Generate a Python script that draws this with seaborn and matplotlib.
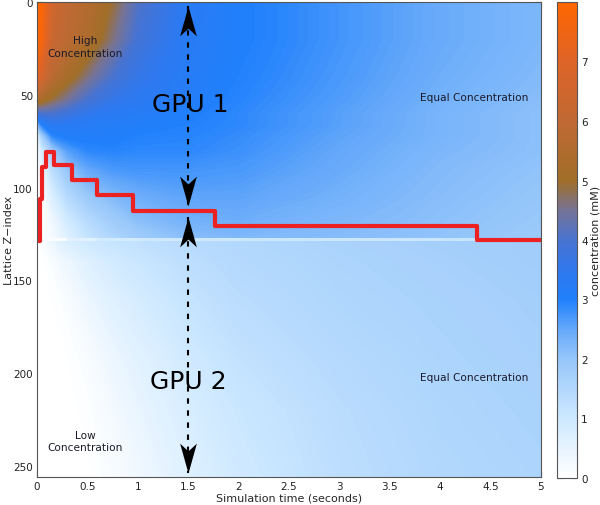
import numpy as np
import matplotlib
matplotlib.use("Agg")
import matplotlib.pyplot as plt
import seaborn as sns
from matplotlib.colors import LinearSegmentedColormap, Normalize
from matplotlib.cm import ScalarMappable
from matplotlib.path import Path

# ---------------- data ----------------
# upper sub-domain (GPU 1): concentration (mM) at sample times / lattice rows
t_up = [0, 0.05, 0.15, 0.3, 0.5, 0.75, 1.0, 1.5, 2.0, 3.0, 4.0, 5.0]
z_up = [0, 20, 40, 52, 60, 66, 72, 80, 90, 105, 118, 128]
c_up = [
    [8.0, 7.8, 6.5, 6.0, 5.6, 4.9, 4.1, 3.3, 3.05, 2.75, 2.45, 2.25],
    [8.0, 7.6, 6.3, 5.8, 5.4, 4.6, 3.9, 3.25, 3.05, 2.75, 2.45, 2.25],
    [7.2, 6.6, 5.8, 5.2, 4.6, 4.0, 3.6, 3.2, 3.0, 2.7, 2.4, 2.2],
    [5.6, 5.3, 4.9, 4.5, 4.0, 3.6, 3.4, 3.15, 2.95, 2.65, 2.35, 2.15],
    [3.6, 4.0, 4.0, 3.8, 3.5, 3.3, 3.2, 3.05, 2.9, 2.6, 2.3, 2.1],
    [2.2, 3.0, 3.3, 3.3, 3.2, 3.15, 3.1, 3.0, 2.9, 2.6, 2.3, 2.1],
    [0.5, 1.8, 2.9, 3.1, 3.1, 3.1, 3.0, 2.95, 2.85, 2.55, 2.3, 2.1],
    [0.0, 0.9, 1.8, 2.6, 2.9, 2.95, 2.9, 2.9, 2.8, 2.5, 2.25, 2.1],
    [0.0, 0.4, 1.3, 2.0, 2.5, 2.7, 2.75, 2.75, 2.7, 2.45, 2.2, 2.05],
    [0.0, 0.1, 0.7, 1.4, 1.9, 2.2, 2.4, 2.55, 2.55, 2.35, 2.15, 2.0],
    [0.0, 0.0, 0.3, 0.9, 1.4, 1.8, 2.1, 2.35, 2.4, 2.25, 2.1, 1.95],
    [0.0, 0.0, 0.2, 0.6, 1.1, 1.5, 1.8, 2.1, 2.2, 2.15, 2.05, 1.9],
]

# lower sub-domain (GPU 2)
t_low = [0, 0.1, 0.25, 0.5, 0.75, 1.0, 1.5, 2.0, 3.0, 4.0, 5.0]
z_low = [128, 140, 160, 190, 220, 256]
c_low = [
    [0.0, 0.3, 0.7, 1.0, 1.15, 1.25, 1.4, 1.5, 1.65, 1.75, 1.8],
    [0.0, 0.05, 0.3, 0.65, 0.9, 1.05, 1.3, 1.45, 1.6, 1.7, 1.8],
    [0.0, 0.0, 0.1, 0.4, 0.65, 0.85, 1.15, 1.35, 1.55, 1.65, 1.75],
    [0.0, 0.0, 0.0, 0.15, 0.4, 0.6, 0.95, 1.2, 1.45, 1.6, 1.7],
    [0.0, 0.0, 0.0, 0.05, 0.25, 0.45, 0.8, 1.05, 1.35, 1.55, 1.65],
    [0.0, 0.0, 0.0, 0.0, 0.15, 0.3, 0.65, 0.95, 1.3, 1.5, 1.6],
]

# lighter seam row at the GPU interface
t_seam = [0, 0.3, 0.6, 1.0, 2.0, 3.0, 4.0, 5.0]
z_seam = [127.2, 128.6]
c_seam = [[0.1, 0.6, 0.9, 1.0, 1.05, 1.05, 1.1]]

# load-balanced domain boundary (red step line)
boundary_t = [0.01, 0.025, 0.045, 0.085, 0.17, 0.35, 0.6, 0.95, 1.77, 4.37, 5.0]
boundary_z = [129, 106, 89, 81, 88, 96, 104, 112.5, 120.5, 128.5, 128.5]

# GPU extent arrows
gpu_t = 1.5
gpu1_z = [2, 110]
gpu2_z = [116, 254]

x_ticks = [0, 0.5, 1, 1.5, 2, 2.5, 3, 3.5, 4, 4.5, 5]
x_tick_labels = ["0", "0.5", "1", "1.5", "2", "2.5", "3", "3.5", "4", "4.5", "5"]
y_ticks = [0, 50, 100, 150, 200, 250]
cbar_ticks = [0, 1, 2, 3, 4, 5, 6, 7]

labels_small = [
    (0.48, 24, "High\nConcentration"),
    (0.48, 236.5, "Low\nConcentration"),
    (4.34, 51, "Equal Concentration"),
    (4.34, 202, "Equal Concentration"),
]
labels_big = [(1.52, 55, "GPU 1"), (1.5, 204, "GPU 2")]

# ---------------- style ----------------
sns.set_style("ticks")
plt.rcParams["font.family"] = ["DejaVu Sans"]

cmap_nodes = [
    (0.0, (1.0, 1.0, 1.0)),
    (1.0, (205/255, 232/255, 1.0)),
    (2.0, (150/255, 198/255, 250/255)),
    (2.5, (100/255, 168/255, 250/255)),
    (3.0, (32/255, 128/255, 252/255)),
    (3.5, (48/255, 120/255, 238/255)),
    (4.0, (72/255, 115/255, 208/255)),
    (4.5, (118/255, 115/255, 150/255)),
    (5.0, (160/255, 110/255, 40/255)),
    (6.0, (192/255, 105/255, 52/255)),
    (7.0, (222/255, 100/255, 40/255)),
    (8.0, (1.0, 102/255, 0.0)),
]
cmap = LinearSegmentedColormap.from_list("conc", [(v / 8.0, c) for v, c in cmap_nodes])
norm = Normalize(vmin=0, vmax=8)
levels = np.linspace(-0.01, 8.01, 802)

fig = plt.figure(figsize=(6.0, 5.06), dpi=100)
ax = fig.add_axes([37/600, 1 - 478/506, (541 - 37)/600, 475/506])
cax = fig.add_axes([557/600, 1 - 479/506, 20/600, 476/506])

ax.contourf(t_up, z_up, c_up, levels=levels, cmap=cmap, norm=norm, antialiased=False)
ax.contourf(t_low, z_low, c_low, levels=levels, cmap=cmap, norm=norm, antialiased=False)
ax.pcolormesh(t_seam, z_seam, c_seam, cmap=cmap, norm=norm, shading="flat")

sns.lineplot(x=boundary_t, y=boundary_z, ax=ax, color="#ec2222", lw=3.0,
             drawstyle="steps-post", estimator=None, sort=False, legend=False)

# dashed double arrows
up_head = Path([(0, 0), (0.28, -1), (0, -0.74), (-0.28, -1), (0, 0)],
               [Path.MOVETO, Path.LINETO, Path.LINETO, Path.LINETO, Path.CLOSEPOLY])
down_head = Path([(0, 0), (0.28, 1), (0, 0.74), (-0.28, 1), (0, 0)],
                 [Path.MOVETO, Path.LINETO, Path.LINETO, Path.LINETO, Path.CLOSEPOLY])
for zs in (gpu1_z, gpu2_z):
    ax.plot([gpu_t, gpu_t], zs, color="black", lw=1.5, dashes=(2.6, 3.2), zorder=4)
    ax.plot([gpu_t], [zs[0]], marker=up_head, ms=43, color="black", mew=0, zorder=5)
    ax.plot([gpu_t], [zs[1]], marker=down_head, ms=43, color="black", mew=0, zorder=5)

for x, y, s in labels_small:
    ax.text(x, y, s, ha="center", va="center", fontsize=7.6, color="#1a1a2a",
            linespacing=1.3)
for x, y, s in labels_big:
    ax.text(x, y, s, ha="center", va="center", fontsize=18, color="black")

ax.set_xlim(0, 5)
ax.set_ylim(256, 0)
ax.set_xticks(x_ticks)
ax.set_xticklabels(x_tick_labels)
ax.set_yticks(y_ticks)
ax.tick_params(direction="in", top=True, right=True, length=4, width=0.8,
               labelsize=7.5, colors="#222222", pad=3)
for sp in ax.spines.values():
    sp.set_color("#555555")
    sp.set_linewidth(0.8)
ax.set_xlabel("Simulation time (seconds)", fontsize=8, labelpad=1)
ax.set_ylabel("Lattice Z\u2212index", fontsize=8)
ax.yaxis.set_label_coords(-0.046, 0.5)

cb = fig.colorbar(ScalarMappable(norm=norm, cmap=cmap), cax=cax)
cb.set_ticks(cbar_ticks)
cax.tick_params(direction="in", left=True, right=True, length=4, width=0.8,
                labelsize=7.5, colors="#222222", pad=3)
cb.outline.set_edgecolor("#555555")
cb.outline.set_linewidth(0.8)
cb.set_label("concentration (mM)", fontsize=8, labelpad=2)

fig.savefig("out.png", dpi=100)
